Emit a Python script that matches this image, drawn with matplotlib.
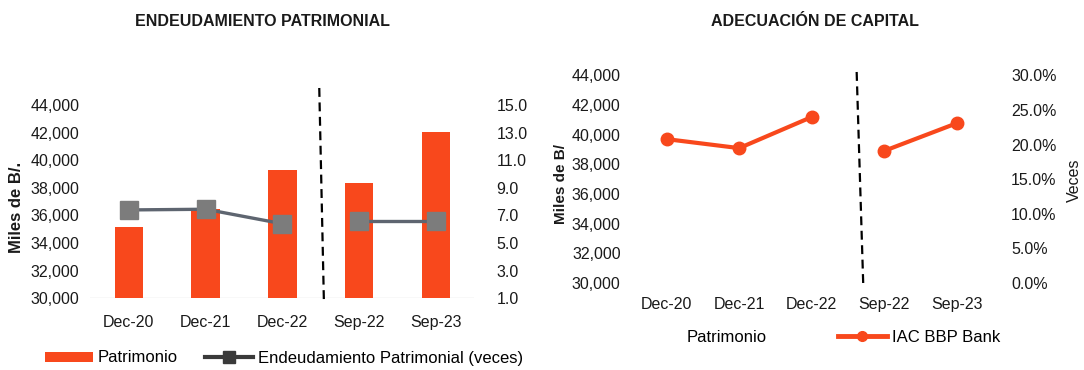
import matplotlib
matplotlib.use("Agg")
import matplotlib.pyplot as plt
import matplotlib.transforms as mtransforms
from matplotlib.patches import Patch
from matplotlib.lines import Line2D
from matplotlib.ticker import FixedLocator, FuncFormatter

plt.rcParams["font.family"] = ["Liberation Sans", "DejaVu Sans"]

# ---- data -------------------------------------------------------------
periods = ["Dec-20", "Dec-21", "Dec-22", "Sep-22", "Sep-23"]
patrimonio = [35200, 36500, 39300, 38350, 42050]          # Miles de B/.
endeudamiento = [7.4, 7.45, 6.4, 6.6, 6.6]                 # veces
iac_bbp = [20.8, 19.5, 24.0, 19.1, 23.1]                   # %

miles_ticks = [30000, 32000, 34000, 36000, 38000, 40000, 42000, 44000]
veces_ticks = [1.0, 3.0, 5.0, 7.0, 9.0, 11.0, 13.0, 15.0]
pct_ticks = [0, 5, 10, 15, 20, 25, 30]

annual = slice(0, 3)     # year-end figures
interim = slice(3, 5)    # September figures

ORANGE = "#F8481C"
GREY_LINE = "#5E6570"
GREY_MARK = "#7C7C7C"
TXT = "#1a1a1a"

W, H = 1084, 370
fig = plt.figure(figsize=(W / 100, H / 100), dpi=100)


def px_axes(x0, x1, ytop, ybot):
    return fig.add_axes([x0 / W, (H - ybot) / H, (x1 - x0) / W, (ybot - ytop) / H])


def px_text(xp, yp, s, **kw):
    return fig.text(xp / W, 1 - yp / H, s, ha="center", va="center",
                    color=TXT, **kw)


def clean(ax):
    for s in ax.spines.values():
        s.set_visible(False)
    ax.tick_params(length=0, labelsize=11.5, colors=TXT)


x = list(range(len(periods)))
fmt_miles = FuncFormatter(lambda v, p: f"{v:,.0f}")

# ---- left: Endeudamiento patrimonial ---------------------------------
ax1 = px_axes(90.4, 474.4, 105, 298.3)
ax1.bar(x, patrimonio, width=0.37, color=ORANGE, zorder=2)
ax1.axhline(miles_ticks[0], color="#dcdcdc", lw=1, zorder=1)
ax1.set_xlim(-0.5, len(periods) - 0.5)
ax1.set_ylim(miles_ticks[0], miles_ticks[-1])
ax1.yaxis.set_major_locator(FixedLocator(miles_ticks))
ax1.yaxis.set_major_formatter(fmt_miles)
ax1.set_xticks(x)
ax1.set_xticklabels(periods)
clean(ax1)
ax1.tick_params(axis="y", pad=8)
ax1.tick_params(axis="x", pad=12)

ax1b = ax1.twinx()
ax1b.set_ylim(veces_ticks[0], veces_ticks[-1])
ax1b.yaxis.set_major_locator(FixedLocator(veces_ticks))
ax1b.yaxis.set_major_formatter(FuncFormatter(lambda v, p: f"{v:.1f}"))
clean(ax1b)
ax1b.tick_params(axis="y", pad=16)
for seg in (annual, interim):
    ax1b.plot(x[seg], endeudamiento[seg], color=GREY_LINE, lw=2.4,
              marker="s", markersize=13.5, markerfacecolor=GREY_MARK,
              markeredgecolor=GREY_MARK, zorder=3)

tr1 = mtransforms.blended_transform_factory(ax1.transData, ax1.transAxes)
ax1.plot([2.48, 2.54], [1.088, -0.01], transform=tr1, color="black",
         lw=1.6, ls=(0, (4, 2.5)), clip_on=False, zorder=4)

px_text(17, 207, "Miles de B/.", rotation=90, fontsize=12, fontweight="bold")
px_text(262, 22, "ENDEUDAMIENTO PATRIMONIAL", fontsize=11.5,
        fontweight="bold")

fig.legend(handles=[Patch(facecolor=ORANGE, edgecolor="none"),
                    Line2D([], [], color="#3a3a3a", lw=3, marker="s",
                           markersize=8, markerfacecolor="#3a3a3a")],
           labels=["Patrimonio", "Endeudamiento Patrimonial (veces)"],
           loc="center", bbox_to_anchor=(284 / W, 1 - 358 / H), ncol=2,
           frameon=False, fontsize=12, handlelength=2.9, handleheight=0.55,
           handletextpad=0.3, columnspacing=1.6)

# ---- right: Adecuación de capital -------------------------------------
ax2 = px_axes(630.4, 993, 75.5, 283)
ax2.set_xlim(-0.5, len(periods) - 0.5)
ax2.set_ylim(miles_ticks[0], miles_ticks[-1])
ax2.yaxis.set_major_locator(FixedLocator(miles_ticks))
ax2.yaxis.set_major_formatter(fmt_miles)
ax2.set_xticks(x)
ax2.set_xticklabels(periods)
clean(ax2)
ax2.tick_params(axis="y", pad=7)
ax2.tick_params(axis="x", pad=10)

ax2b = ax2.twinx()
ax2b.set_ylim(pct_ticks[0], pct_ticks[-1])
ax2b.yaxis.set_major_locator(FixedLocator(pct_ticks))
ax2b.yaxis.set_major_formatter(FuncFormatter(lambda v, p: f"{v:.1f}%"))
clean(ax2b)
ax2b.tick_params(axis="y", pad=13)
for seg in (annual, interim):
    ax2b.plot(x[seg], iac_bbp[seg], color=ORANGE, lw=3,
              marker="o", markersize=9, zorder=3)

tr2 = mtransforms.blended_transform_factory(ax2.transData, ax2.transAxes)
ax2.plot([2.62, 2.71], [1.017, 0.0], transform=tr2, color="black",
         lw=1.6, ls=(0, (4, 2.5)), clip_on=False, zorder=4)

px_text(561, 184, "Miles de B/", rotation=90, fontsize=11, fontweight="bold")
px_text(1074, 180, "Veces", rotation=90, fontsize=11.5)
px_text(815, 22, "ADECUACIÓN DE CAPITAL", fontsize=11.5, fontweight="bold")

fig.legend(handles=[Patch(facecolor="none", edgecolor="none"),
                    Line2D([], [], color=ORANGE, lw=3.5, marker="o",
                           markersize=7)],
           labels=["Patrimonio", "IAC BBP Bank"],
           loc="center", bbox_to_anchor=(816.5 / W, 1 - 337 / H), ncol=2,
           frameon=False, fontsize=12, handlelength=2.9,
           handletextpad=0.3, columnspacing=4.3)

fig.savefig("out.png", dpi=100)
